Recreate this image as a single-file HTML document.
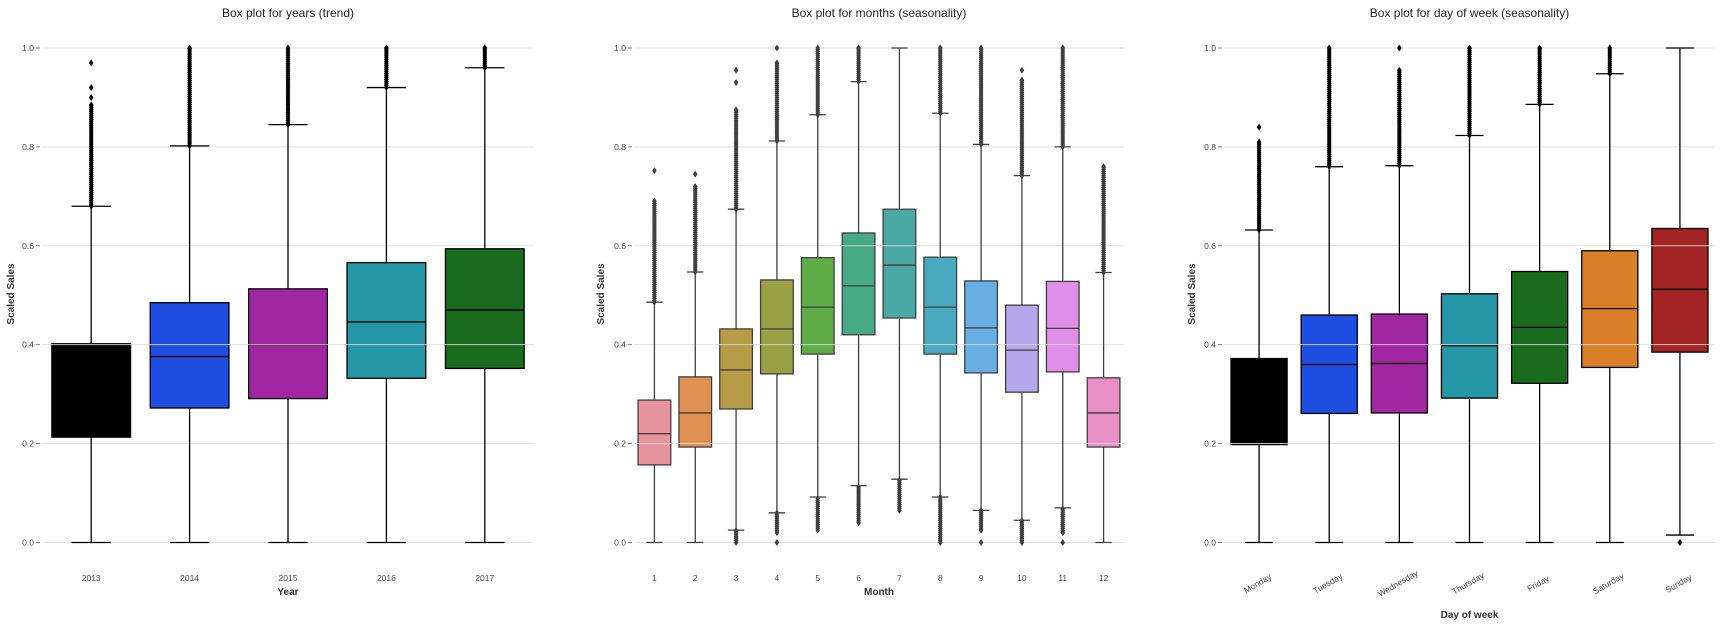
<!DOCTYPE html>
<html><head><meta charset="utf-8">
<style>
html,body{margin:0;padding:0;background:#fff;}
svg{display:block;font-family:"Liberation Sans","DejaVu Sans",sans-serif;}
</style></head>
<body>
<svg id="chart" width="1722" height="627" viewBox="0 0 1722 627" xmlns="http://www.w3.org/2000/svg"></svg>
<script>
// ---------- Panel 1: years ----------
const yearCats = ["2013","2014","2015","2016","2017"];
const yearQ1 = [0.213,0.272,0.291,0.332,0.352];
const yearMed = [0.400,0.376,0.400,0.446,0.470];
const yearQ3 = [0.402,0.485,0.513,0.566,0.594];
const yearLo = [0,0,0,0,0];
const yearHi = [0.680,0.802,0.845,0.920,0.960];
const yearFlierTop = [0.885,1.0,1.0,1.0,1.0];
const yearFlierIso = [[0.90,0.92,0.97],[],[],[],[]];
const yearLowFlierRange = [null,null,null,null,null];
const yearLowIso = [[],[],[],[],[]];
const yearColors = ["#000000","#1f4de0","#a126a1","#2596a6","#1a6b1e"];

// ---------- Panel 2: months ----------
const monthCats = ["1","2","3","4","5","6","7","8","9","10","11","12"];
const monthQ1 = [0.157,0.193,0.270,0.341,0.381,0.420,0.454,0.381,0.343,0.304,0.345,0.193];
const monthMed = [0.220,0.262,0.349,0.432,0.476,0.519,0.561,0.476,0.434,0.389,0.433,0.262];
const monthQ3 = [0.288,0.335,0.432,0.531,0.576,0.626,0.674,0.577,0.529,0.480,0.528,0.333];
const monthLo = [0,0,0.025,0.060,0.092,0.115,0.128,0.092,0.065,0.045,0.070,0];
const monthHi = [0.486,0.547,0.674,0.812,0.865,0.932,1.0,0.868,0.805,0.742,0.800,0.546];
const monthFlierTop = [0.690,0.720,0.875,0.970,1.0,1.0,1.0,1.0,1.0,0.935,1.0,0.760];
const monthFlierIso = [[0.752],[0.745],[0.93,0.955],[1.0],[],[],[],[],[],[0.955],[],[]];
const monthLowFlierRange = [null,null,[0,0.025],[0.02,0.06],[0.025,0.092],[0.04,0.115],[0.065,0.128],[0,0.092],[0.025,0.065],[0,0.045],[0.02,0.07],null];
const monthLowIso = [[],[],[],[0],[],[],[],[],[0],[],[0],[]];
const monthColors = ["#e8949f","#e09053","#b89b47","#99a046","#5fad47","#45aa85","#4aa9a4","#4ba9bf","#69aee2","#b3a6ea","#e08fe8","#e88fc6"];

// ---------- Panel 3: day of week ----------
const dowCats = ["Monday","Tuesday","Wednesday","Thursday","Friday","Saturday","Sunday"];
const dowQ1 = [0.198,0.261,0.262,0.292,0.322,0.354,0.385];
const dowMed = [0.200,0.360,0.362,0.398,0.435,0.473,0.512];
const dowQ3 = [0.372,0.460,0.462,0.503,0.548,0.590,0.635];
const dowLo = [0,0,0,0,0,0,0.015];
const dowHi = [0.632,0.760,0.762,0.823,0.886,0.948,1.0];
const dowFlierTop = [0.810,1.0,0.955,1.0,1.0,1.0,1.0];
const dowFlierIso = [[0.84],[],[1.0],[],[],[],[]];
const dowLowFlierRange = [null,null,null,null,null,null,null];
const dowLowIso = [[],[],[],[],[],[],[0]];
const dowColors = ["#000000","#1f4de0","#a126a1","#2596a6","#1a6b1e","#d97f27","#a32424"];

const yTicks = [0.0,0.2,0.4,0.6,0.8,1.0];
const yTickLabels = ["0.0","0.2","0.4","0.6","0.8","1.0"];

const NS = "http://www.w3.org/2000/svg";
const svg = document.getElementById("chart");
function mk(tag, attrs, parent){
  const e = document.createElementNS(NS, tag);
  for (const k in attrs) e.setAttribute(k, attrs[k]);
  (parent||svg).appendChild(e);
  return e;
}
const Y0 = 542.5, YPX = 494.5;
function yScale(v){ return Y0 - v*YPX; }

function panel(cfg){
  const g = mk("g", {});
  
  
  const n = cfg.cats.length;
  const step = (cfg.x1 - cfg.x0)/n;
  function xScale(i){ return cfg.x0 + step*(i+0.5); }
  const bw = step*0.8;
  const ec = cfg.edge;
  // title
  const t = mk("text", {x:(cfg.x0+cfg.x1)/2, y:17, "text-anchor":"middle", "font-size":12, fill:"#222"}, g);
  t.textContent = cfg.title;
  
  
  // y label
  const yl = mk("text", {x:0, y:0, transform:`translate(${cfg.ylx},294) rotate(-90)`, "text-anchor":"middle", "font-size":10, "font-weight":"bold", fill:"#333"}, g);
  yl.textContent = "Scaled Sales";
  
  
  // boxes
  for (let i=0;i<n;i++){
    const cx = xScale(i);
    const r = mk("rect", {x:cx-bw/2, y:yScale(cfg.q3[i]), width:bw, height:yScale(cfg.q1[i])-yScale(cfg.q3[i]), fill:cfg.colors[i], stroke:ec, "stroke-width":1.3}, g);
    
    
    mk("line", {x1:cx-bw/2, x2:cx+bw/2, y1:yScale(cfg.med[i]), y2:yScale(cfg.med[i]), stroke:ec, "stroke-width":1.3}, g);
  }
  // gridlines + y ticks
  yTicks.forEach((v,k)=>{
    const y = yScale(v);
    const gl = mk("line", {x1:cfg.x0, x2:cfg.x1, y1:y, y2:y, stroke:"#dcdcdc", "stroke-width":0.9}, g);
    
    
    mk("line", {x1:cfg.x0-6, x2:cfg.x0-2, y1:y, y2:y, stroke:"#555", "stroke-width":0.8}, g);
    const tl = mk("text", {x:cfg.x0-8, y:y+3, "text-anchor":"end", "font-size":8.5, fill:"#444"}, g);
    tl.textContent = yTickLabels[k];
    
    
  });
  // whiskers, caps, fliers (above grid)
  for (let i=0;i<n;i++){
    const cx = xScale(i);
    const bg = mk("g", {}, g);
    
    
    mk("line", {x1:cx, x2:cx, y1:yScale(cfg.q3[i])-0.6, y2:yScale(cfg.hi[i]), stroke:ec, "stroke-width":1.3}, bg);
    mk("line", {x1:cx, x2:cx, y1:yScale(cfg.q1[i])+0.6, y2:yScale(cfg.lo[i]), stroke:ec, "stroke-width":1.3}, bg);
    mk("line", {x1:cx-bw/4, x2:cx+bw/4, y1:yScale(cfg.hi[i]), y2:yScale(cfg.hi[i]), stroke:ec, "stroke-width":1.3}, bg);
    mk("line", {x1:cx-bw/4, x2:cx+bw/4, y1:yScale(cfg.lo[i]), y2:yScale(cfg.lo[i]), stroke:ec, "stroke-width":1.3}, bg);
    const pts = [];
    if (cfg.ftop[i] > cfg.hi[i]) {
      for (let v=cfg.hi[i]; v<=cfg.ftop[i]+1e-9; v+=0.004) pts.push(v);
      pts.push(cfg.ftop[i]);
    }
    if (cfg.lowRange[i]) {
      for (let v=cfg.lowRange[i][0]; v<=cfg.lowRange[i][1]+1e-9; v+=0.004) pts.push(v);
    }
    cfg.iso[i].forEach(v=>pts.push(v));
    cfg.lowIso[i].forEach(v=>pts.push(v));
    pts.forEach(v=>{
      const y = yScale(v);
      const d = mk("path", {d:`M${cx},${y-3.5} L${cx+2.3},${y} L${cx},${y+3.5} L${cx-2.3},${y} Z`, fill:ec}, bg);
      
      
    });
  }
  // x ticks
  for (let i=0;i<n;i++){
    const cx = xScale(i);
    let tl;
    if (cfg.rotate){
      tl = mk("text", {x:0, y:0, transform:`translate(${cx},${586}) rotate(-30)`, "text-anchor":"middle", "font-size":8.5, fill:"#444"}, g);
    } else {
      tl = mk("text", {x:cx, y:581, "text-anchor":"middle", "font-size":8.5, fill:"#444"}, g);
    }
    tl.textContent = cfg.cats[i];
    
    
  }
  const xl = mk("text", {x:(cfg.x0+cfg.x1)/2, y:cfg.xly, "text-anchor":"middle", "font-size":10, "font-weight":"bold", fill:"#333"}, g);
  xl.textContent = cfg.xlabel;
  
  
}

panel({name:"years-panel", title:"Box plot for years (trend)", xlabel:"Year", cats:yearCats, q1:yearQ1, med:yearMed, q3:yearQ3, lo:yearLo, hi:yearHi, ftop:yearFlierTop, iso:yearFlierIso, lowRange:yearLowFlierRange, lowIso:yearLowIso, colors:yearColors, edge:"#000", x0:42, x1:534, ylx:14, xly:595, rotate:false});
panel({name:"months-panel", title:"Box plot for months (seasonality)", xlabel:"Month", cats:monthCats, q1:monthQ1, med:monthMed, q3:monthQ3, lo:monthLo, hi:monthHi, ftop:monthFlierTop, iso:monthFlierIso, lowRange:monthLowFlierRange, lowIso:monthLowIso, colors:monthColors, edge:"#3f3f3f", x0:634, x1:1124, ylx:604, xly:595, rotate:false});
panel({name:"day-of-week-panel", title:"Box plot for day of week (seasonality)", xlabel:"Day of week", cats:dowCats, q1:dowQ1, med:dowMed, q3:dowQ3, lo:dowLo, hi:dowHi, ftop:dowFlierTop, iso:dowFlierIso, lowRange:dowLowFlierRange, lowIso:dowLowIso, colors:dowColors, edge:"#000", x0:1224, x1:1715, ylx:1195, xly:618, rotate:true});
</script>
</body></html>
